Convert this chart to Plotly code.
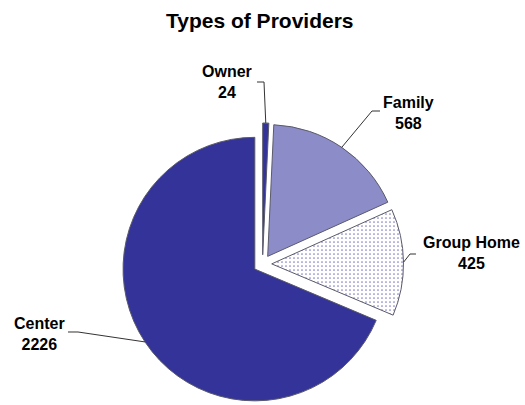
import math
import plotly.graph_objects as go

# ---- data ----
categories = ["Owner", "Family", "Group Home", "Center"]
values = [24, 568, 425, 2226]
title_text = "Types of Providers"

# ---- geometry / style constants ----
W, H = 525, 405
MT = 123  # top margin (px)
PULL = 0.07
FONT = "Liberation Sans, Arial, sans-serif"
BLUE = "#333399"

fig = go.Figure()
fig.add_trace(go.Pie(
    labels=categories,
    values=values,
    sort=False,
    direction="clockwise",
    rotation=0,
    pull=[PULL] * len(values),
    textinfo="none",
    hoverinfo="label+value",
    showlegend=False,
    marker=dict(
        colors=[BLUE, "#8c8cc8", "#ffffff", BLUE],
        line=dict(color="#5a5a6a", width=1),
        pattern=dict(
            shape=["", "", ".", ""],
            fgcolor="#8080cc",
            bgcolor="#ffffff",
            size=4,
            solidity=0.15,
        ),
    ),
))

# pie geometry as plotly computes it
plot_h = H - MT
cx, cy = W / 2, MT + plot_h / 2
r = min(W, plot_h) / (2 + 2 * PULL)
R_edge = r * (1 + PULL)


def px(x):
    return x / W


def py(y):
    return (H - y) / plot_h


total = sum(values)
cum = 0
mids = []
for v in values:
    mids.append((cum + v / 2) / total * 2 * math.pi)
    cum += v

# label placement (pixel positions of text centres and leader elbows)
label_pos = {
    "Owner": ((227, 81.5), [(264, 82), (257, 82)]),
    "Family": ((408, 113), [(372, 111), (380, 111)]),
    "Group Home": ((471, 253), [(410, 254), (416, 254)]),
    "Center": ((39.5, 333.5), [(78, 332), (68, 332)]),
}

shapes = []
annotations = []
for cat, val, th in zip(categories, values, mids):
    ex = cx + R_edge * math.sin(th)
    ey = cy - R_edge * math.cos(th)
    (tx, ty), elbow = label_pos[cat]
    pts = [(ex, ey)] + elbow
    path = "M " + " L ".join(f"{px(x):.5f},{py(y):.5f}" for x, y in pts)
    shapes.append(dict(type="path", xref="paper", yref="paper", path=path,
                       line=dict(color="#333333", width=1)))
    annotations.append(dict(
        x=px(tx), y=py(ty), xref="paper", yref="paper",
        xanchor="center", yanchor="middle", showarrow=False, align="center",
        text=f"{cat}<br>{val}",
        font=dict(family=FONT, size=16, color="#000000", weight="bold"),
    ))

annotations.append(dict(
    x=px(260), y=py(20), xref="paper", yref="paper",
    xanchor="center", yanchor="middle", showarrow=False,
    text=title_text,
    font=dict(family=FONT, size=21, color="#000000", weight="bold"),
))

fig.update_layout(
    width=W, height=H,
    margin=dict(l=0, r=0, t=MT, b=0),
    paper_bgcolor="white",
    plot_bgcolor="white",
    shapes=shapes,
    annotations=annotations,
)

fig.write_html(
    "out.html",
    config={"displayModeBar": False},
    post_script="document.body.style.margin='0px';document.body.style.padding='0px';",
)
